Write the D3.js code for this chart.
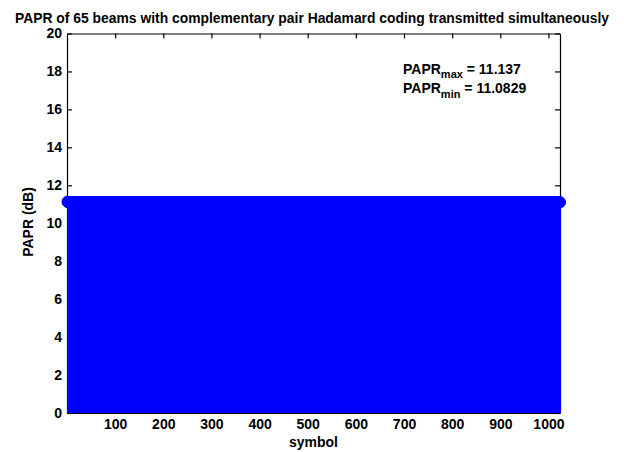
<!DOCTYPE html>
<html>
<head>
<meta charset="utf-8">
<script src="https://cdn.jsdelivr.net/npm/d3@7"></script>
<style>
  body { margin: 0; background: #fff; }
  svg { display: block; }
  text { font-family: "Liberation Sans", Arial, Helvetica, sans-serif; font-weight: bold; font-size: 14px; fill: #000; }
</style>
</head>
<body>
<svg id="chart" width="624" height="452"></svg>
<script>
// Labels and ticks
const titleText = "PAPR of 65 beams with complementary pair Hadamard coding transmitted simultaneously";
const xLabel = "symbol";
const yLabel = "PAPR (dB)";
const xTicks = [100, 200, 300, 400, 500, 600, 700, 800, 900, 1000];
const yTicks = [0, 2, 4, 6, 8, 10, 12, 14, 16, 18, 20];
const xDomain = [0, 1024];
const yDomain = [0, 20];

// Stated extremes of the per-symbol PAPR
const paprMax = 11.137;
const paprMin = 11.0829;

// PAPR (dB) per symbol, symbols 1..1024 (32 rows of 32)
const papr = [
  11.137,11.11,11.11,11.11,11.11,11.11,11.11,11.11, 11.11,11.11,11.11,11.11,11.11,11.11,11.11,11.11, 11.11,11.11,11.11,11.11,11.11,11.11,11.11,11.11, 11.11,11.11,11.11,11.11,11.11,11.11,11.11,11.11,
  11.11,11.11,11.11,11.11,11.11,11.11,11.11,11.11, 11.11,11.11,11.11,11.11,11.11,11.11,11.11,11.11, 11.11,11.11,11.11,11.11,11.11,11.11,11.11,11.11, 11.11,11.11,11.11,11.11,11.11,11.11,11.11,11.11,
  11.11,11.11,11.11,11.11,11.11,11.11,11.11,11.11, 11.11,11.11,11.11,11.11,11.11,11.11,11.11,11.11, 11.11,11.11,11.11,11.11,11.11,11.11,11.11,11.11, 11.11,11.11,11.11,11.11,11.11,11.11,11.11,11.11,
  11.11,11.11,11.11,11.11,11.11,11.11,11.11,11.11, 11.11,11.11,11.11,11.11,11.11,11.11,11.11,11.11, 11.11,11.11,11.11,11.11,11.11,11.11,11.11,11.11, 11.11,11.11,11.11,11.11,11.11,11.11,11.11,11.11,
  11.11,11.11,11.11,11.11,11.11,11.11,11.11,11.11, 11.11,11.11,11.11,11.11,11.11,11.11,11.11,11.11, 11.11,11.11,11.11,11.11,11.11,11.11,11.11,11.11, 11.11,11.11,11.11,11.11,11.11,11.11,11.11,11.11,
  11.11,11.11,11.11,11.11,11.11,11.11,11.11,11.11, 11.11,11.11,11.11,11.11,11.11,11.11,11.11,11.11, 11.11,11.11,11.11,11.11,11.11,11.11,11.11,11.11, 11.11,11.11,11.11,11.11,11.11,11.11,11.11,11.11,
  11.11,11.11,11.11,11.11,11.11,11.11,11.11,11.11, 11.11,11.11,11.11,11.11,11.11,11.11,11.11,11.11, 11.11,11.11,11.11,11.11,11.11,11.11,11.11,11.11, 11.11,11.11,11.11,11.11,11.11,11.11,11.11,11.11,
  11.11,11.11,11.11,11.11,11.11,11.11,11.11,11.11, 11.11,11.11,11.11,11.11,11.11,11.11,11.11,11.11, 11.11,11.11,11.11,11.11,11.11,11.11,11.11,11.11, 11.11,11.11,11.11,11.11,11.11,11.11,11.11,11.11,
  11.11,11.11,11.11,11.11,11.11,11.11,11.11,11.11, 11.11,11.11,11.11,11.11,11.11,11.11,11.11,11.11, 11.11,11.11,11.11,11.11,11.11,11.11,11.11,11.11, 11.11,11.11,11.11,11.11,11.11,11.11,11.11,11.11,
  11.11,11.11,11.11,11.11,11.11,11.11,11.11,11.11, 11.11,11.11,11.11,11.11,11.11,11.11,11.11,11.11, 11.11,11.11,11.11,11.11,11.11,11.11,11.11,11.11, 11.11,11.11,11.11,11.11,11.11,11.11,11.11,11.11,
  11.11,11.11,11.11,11.11,11.11,11.11,11.11,11.11, 11.11,11.11,11.11,11.11,11.11,11.11,11.11,11.11, 11.11,11.11,11.11,11.11,11.11,11.11,11.11,11.11, 11.11,11.11,11.11,11.11,11.11,11.11,11.11,11.11,
  11.11,11.11,11.11,11.11,11.11,11.11,11.11,11.11, 11.11,11.11,11.11,11.11,11.11,11.11,11.11,11.11, 11.11,11.11,11.11,11.11,11.11,11.11,11.11,11.11, 11.11,11.11,11.11,11.11,11.11,11.11,11.11,11.11,
  11.11,11.11,11.11,11.11,11.11,11.11,11.11,11.11, 11.11,11.11,11.11,11.11,11.11,11.11,11.11,11.11, 11.11,11.11,11.11,11.11,11.11,11.11,11.11,11.11, 11.11,11.11,11.11,11.11,11.11,11.11,11.11,11.11,
  11.11,11.11,11.11,11.11,11.11,11.11,11.11,11.11, 11.11,11.11,11.11,11.11,11.11,11.11,11.11,11.11, 11.11,11.11,11.11,11.11,11.11,11.11,11.11,11.11, 11.11,11.11,11.11,11.11,11.11,11.11,11.11,11.11,
  11.11,11.11,11.11,11.11,11.11,11.11,11.11,11.11, 11.11,11.11,11.11,11.11,11.11,11.11,11.11,11.11, 11.11,11.11,11.11,11.11,11.11,11.11,11.11,11.11, 11.11,11.11,11.11,11.11,11.11,11.11,11.11,11.11,
  11.11,11.11,11.11,11.11,11.11,11.11,11.11,11.11, 11.11,11.11,11.11,11.11,11.11,11.11,11.11,11.11, 11.11,11.11,11.11,11.11,11.11,11.11,11.11,11.11, 11.11,11.11,11.11,11.11,11.11,11.11,11.11,11.11,
  11.11,11.11,11.11,11.11,11.11,11.11,11.11,11.11, 11.11,11.11,11.11,11.11,11.11,11.11,11.11,11.11, 11.0829,11.11,11.11,11.11,11.11,11.11,11.11,11.11, 11.11,11.11,11.11,11.11,11.11,11.11,11.11,11.11,
  11.11,11.11,11.11,11.11,11.11,11.11,11.11,11.11, 11.11,11.11,11.11,11.11,11.11,11.11,11.11,11.11, 11.11,11.11,11.11,11.11,11.11,11.11,11.11,11.11, 11.11,11.11,11.11,11.11,11.11,11.11,11.11,11.11,
  11.11,11.11,11.11,11.11,11.11,11.11,11.11,11.11, 11.11,11.11,11.11,11.11,11.11,11.11,11.11,11.11, 11.11,11.11,11.11,11.11,11.11,11.11,11.11,11.11, 11.11,11.11,11.11,11.11,11.11,11.11,11.11,11.11,
  11.11,11.11,11.11,11.11,11.11,11.11,11.11,11.11, 11.11,11.11,11.11,11.11,11.11,11.11,11.11,11.11, 11.11,11.11,11.11,11.11,11.11,11.11,11.11,11.11, 11.11,11.11,11.11,11.11,11.11,11.11,11.11,11.11,
  11.11,11.11,11.11,11.11,11.11,11.11,11.11,11.11, 11.11,11.11,11.11,11.11,11.11,11.11,11.11,11.11, 11.11,11.11,11.11,11.11,11.11,11.11,11.11,11.11, 11.11,11.11,11.11,11.11,11.11,11.11,11.11,11.11,
  11.11,11.11,11.11,11.11,11.11,11.11,11.11,11.11, 11.11,11.11,11.11,11.11,11.11,11.11,11.11,11.11, 11.11,11.11,11.11,11.11,11.11,11.11,11.11,11.11, 11.11,11.11,11.11,11.11,11.11,11.11,11.11,11.11,
  11.11,11.11,11.11,11.11,11.11,11.11,11.11,11.11, 11.11,11.11,11.11,11.11,11.11,11.11,11.11,11.11, 11.11,11.11,11.11,11.11,11.11,11.11,11.11,11.11, 11.11,11.11,11.11,11.11,11.11,11.11,11.11,11.11,
  11.11,11.11,11.11,11.11,11.11,11.11,11.11,11.11, 11.11,11.11,11.11,11.11,11.11,11.11,11.11,11.11, 11.11,11.11,11.11,11.11,11.11,11.11,11.11,11.11, 11.11,11.11,11.11,11.11,11.11,11.11,11.11,11.11,
  11.11,11.11,11.11,11.11,11.11,11.11,11.11,11.11, 11.11,11.11,11.11,11.11,11.11,11.11,11.11,11.11, 11.11,11.11,11.11,11.11,11.11,11.11,11.11,11.11, 11.11,11.11,11.11,11.11,11.11,11.11,11.11,11.11,
  11.11,11.11,11.11,11.11,11.11,11.11,11.11,11.11, 11.11,11.11,11.11,11.11,11.11,11.11,11.11,11.11, 11.11,11.11,11.11,11.11,11.11,11.11,11.11,11.11, 11.11,11.11,11.11,11.11,11.11,11.11,11.11,11.11,
  11.11,11.11,11.11,11.11,11.11,11.11,11.11,11.11, 11.11,11.11,11.11,11.11,11.11,11.11,11.11,11.11, 11.11,11.11,11.11,11.11,11.11,11.11,11.11,11.11, 11.11,11.11,11.11,11.11,11.11,11.11,11.11,11.11,
  11.11,11.11,11.11,11.11,11.11,11.11,11.11,11.11, 11.11,11.11,11.11,11.11,11.11,11.11,11.11,11.11, 11.11,11.11,11.11,11.11,11.11,11.11,11.11,11.11, 11.11,11.11,11.11,11.11,11.11,11.11,11.11,11.11,
  11.11,11.11,11.11,11.11,11.11,11.11,11.11,11.11, 11.11,11.11,11.11,11.11,11.11,11.11,11.11,11.11, 11.11,11.11,11.11,11.11,11.11,11.11,11.11,11.11, 11.11,11.11,11.11,11.11,11.11,11.11,11.11,11.11,
  11.11,11.11,11.11,11.11,11.11,11.11,11.11,11.11, 11.11,11.11,11.11,11.11,11.11,11.11,11.11,11.11, 11.11,11.11,11.11,11.11,11.11,11.11,11.11,11.11, 11.11,11.11,11.11,11.11,11.11,11.11,11.11,11.11,
  11.11,11.11,11.11,11.11,11.11,11.11,11.11,11.11, 11.11,11.11,11.11,11.11,11.11,11.11,11.11,11.11, 11.11,11.11,11.11,11.11,11.11,11.11,11.11,11.11, 11.11,11.11,11.11,11.11,11.11,11.11,11.11,11.11,
  11.11,11.11,11.11,11.11,11.11,11.11,11.11,11.11, 11.11,11.11,11.11,11.11,11.11,11.11,11.11,11.11, 11.11,11.11,11.11,11.11,11.11,11.11,11.11,11.11, 11.11,11.11,11.11,11.11,11.11,11.11,11.11,11.11
];
const symbols = papr.map((_, i) => i + 1);

const W = 624, H = 452;
const plot = { left: 67, right: 560, top: 33.5, bottom: 413 };
const stemColor = "#0000ff";

const svg = d3.select("#chart");
svg.append("rect").attr("width", W).attr("height", H).attr("fill", "#fff");

const x = d3.scaleLinear().domain(xDomain).range([plot.left, plot.right]);
const y = d3.scaleLinear().domain(yDomain).range([plot.bottom, plot.top]);

// Axes box (drawn beneath the data, ticks pointing inward)
function styleAxis(g) {
  g.attr("font-family", null).attr("font-size", null);
  g.select(".domain").attr("stroke", "#000").attr("stroke-width", 1.2);
  g.selectAll(".tick line").attr("stroke", "#000").attr("stroke-width", 1.2);
}
const axes = svg.append("g");
axes.append("g")
  .attr("transform", `translate(0,${plot.bottom})`)
  .call(d3.axisBottom(x).tickValues(xTicks).tickSize(-5).tickSizeOuter(0).tickPadding(6).tickFormat(d3.format("d")))
  .call(styleAxis);
axes.append("g")
  .attr("transform", `translate(0,${plot.top})`)
  .call(d3.axisTop(x).tickValues(xTicks).tickSize(-5).tickSizeOuter(0).tickFormat(""))
  .call(styleAxis);
axes.append("g")
  .attr("transform", `translate(${plot.left},0)`)
  .call(d3.axisLeft(y).tickValues(yTicks).tickSize(-5).tickSizeOuter(0).tickPadding(5).tickFormat(d3.format("d")))
  .call(styleAxis);
axes.append("g")
  .attr("transform", `translate(${plot.right},0)`)
  .call(d3.axisRight(y).tickValues(yTicks).tickSize(-5).tickSizeOuter(0).tickFormat(""))
  .call(styleAxis);

// Stem plot: one stem and one marker per symbol
const data = symbols.map((s, i) => ({ s, v: papr[i] }));
const marks = svg.append("g");
marks.selectAll("line.stem")
  .data(data)
  .join("line")
  .attr("class", "stem")
  .attr("x1", d => x(d.s)).attr("x2", d => x(d.s))
  .attr("y1", y(0)).attr("y2", d => y(d.v))
  .attr("stroke", stemColor).attr("stroke-width", 1.5)
  .attr("shape-rendering", "crispEdges");
marks.selectAll("circle.marker")
  .data(data)
  .join("circle")
  .attr("class", "marker")
  .attr("cx", d => x(d.s)).attr("cy", d => y(d.v))
  .attr("r", 5.5)
  .attr("fill", stemColor).attr("stroke", stemColor).attr("stroke-width", 1);

// Title and axis labels
svg.append("text")
  .attr("x", 15).attr("y", 23)
  .attr("textLength", 594).attr("lengthAdjust", "spacingAndGlyphs")
  .text(titleText);
svg.append("text")
  .attr("x", (plot.left + plot.right) / 2).attr("y", 447)
  .attr("text-anchor", "middle")
  .text(xLabel);
svg.append("text")
  .attr("transform", `translate(33,222) rotate(-90)`)
  .attr("text-anchor", "middle")
  .text(yLabel);

// Extremes annotation
const note = svg.append("g");
const rows = [
  { sub: "max", val: paprMax, base: 74, subDy: 4 },
  { sub: "min", val: paprMin, base: 93, subDy: 5 }
];
rows.forEach(r => {
  const t = note.append("text").attr("x", 403).attr("y", r.base);
  t.append("tspan").text("PAPR");
  t.append("tspan").attr("dy", r.subDy).style("font-size", "11px").text(r.sub);
  t.append("tspan").attr("dy", -r.subDy).text(" = " + r.val);
});
</script>
</body>
</html>
